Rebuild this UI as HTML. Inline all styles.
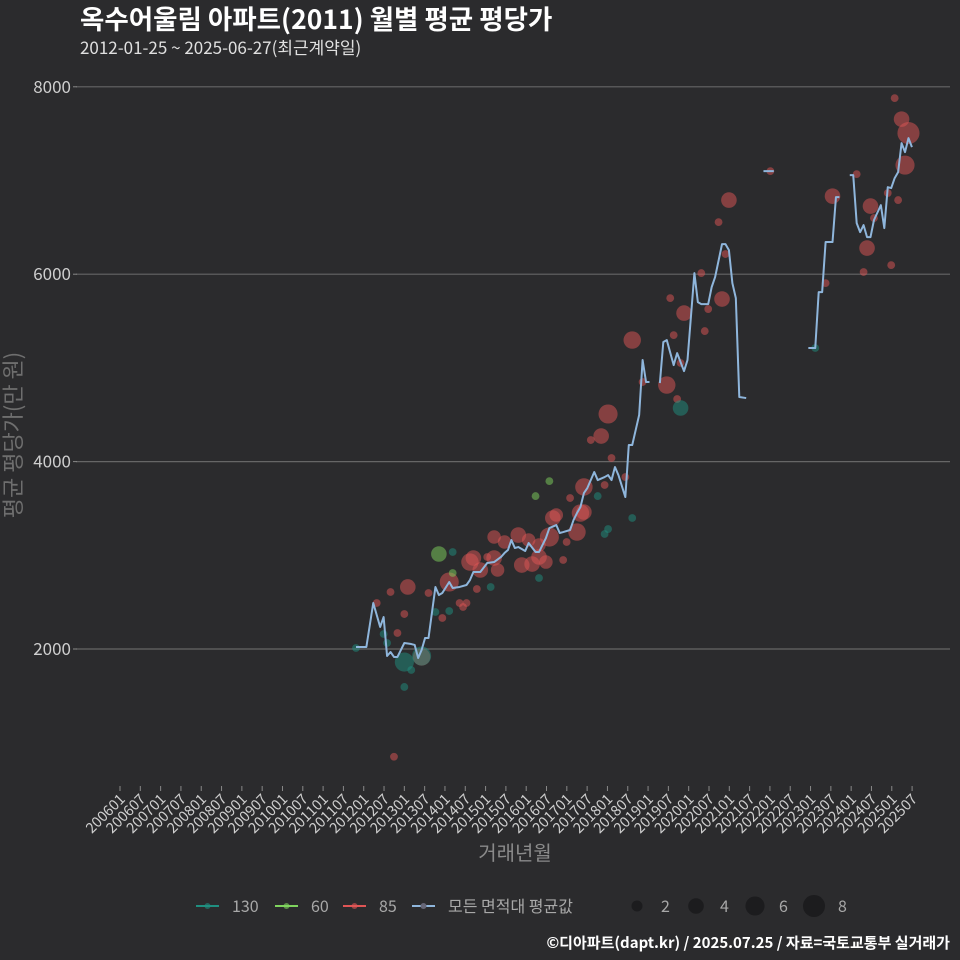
<!DOCTYPE html>
<html><head><meta charset="utf-8"><style>
body{margin:0;background:#2b2b2d;}
svg{display:block;font-family:"Noto Sans CJK KR","Liberation Sans",sans-serif;}
</style></head><body>
<svg id="chart" width="960" height="960" viewBox="0 0 960 960" xmlns="http://www.w3.org/2000/svg">
<rect width="960" height="960" fill="#2b2b2d"/>
<text x="80" y="29" fill="#ffffff" font-size="26.5" font-weight="bold">옥수어울림 아파트(2011) 월별 평균 평당가</text>
<text x="80" y="54" fill="#e0e0e0" font-size="17">2012-01-25 ~ 2025-06-27(최근계약일)</text>
<g id="grid"></g>
<g id="points"></g>
<g id="line"></g>
<g id="xaxis"></g>
<text x="515" y="860" fill="#8a8a8a" font-size="20" text-anchor="middle">거래년월</text>
<text transform="translate(21,435) rotate(-90)" fill="#6e6e6e" font-size="22" text-anchor="middle">평균 평당가(만 원)</text>
<g id="legend"></g>
<text x="950" y="948" fill="#ffffff" font-size="15" font-weight="bold" text-anchor="end">©디아파트(dapt.kr) / 2025.07.25 / 자료=국토교통부 실거래가</text>
</svg>
<script>
const yTicks=[2000,4000,6000,8000];
const xTickLabels=["200601","200607","200701","200707","200801","200807","200901","200907","201001","201007","201101","201107","201201","201207","201301","201307","201401","201407","201501","201507","201601","201607","201701","201707","201801","201807","201901","201907","202001","202007","202101","202107","202201","202207","202301","202307","202401","202407","202501","202507"];
// average line: month index since 2012-01 and value (null = break)
const lineMonths=[0,3,5,7,8,9,10,11,12,14,16,17,18,19,20,21,23,24,25,27,28,30,32,33,34,36,38,40,42,43,44,45,46,47,49,50,52,53,55,56,58,59,60,62,63,64,65,66,67,69,70,72,73,74,75,76,78,79,80,82,83,84,85,86,88,89,90,92,93,95,96,98,99,100,102,103,104,106,107,108,109,110,111,113,114,118,121,122,131,133,134,135,136,138,139,140,141,143,144,145,146,147,148,149,150,152,153,154,155,156,157,158,159,160,161];
const lineValues=[2021,2021,2491,2235,2341,1925,1968,1915,1915,2064,2053,2043,1904,1989,2117,2117,2662,2576,2598,2715,2651,2662,2683,2736,2822,2822,2918,2928,2982,3024,3056,3163,3078,3088,3046,3131,3035,3035,3184,3291,3323,3238,3248,3270,3376,3451,3515,3664,3718,3889,3803,3835,3856,3803,3942,3856,3622,4177,4177,4497,5084,4849,4849,null,4838,5276,5297,5030,5158,4966,5084,6012,5702,5681,5681,5862,5969,6321,6321,6257,5905,5745,4689,4678,null,7100,7100,null,5212,5212,5809,5809,6343,6343,6823,6823,null,7058,7058,6545,6449,6524,6396,6396,6577,6737,6492,6929,6919,7026,7090,7399,7303,7452,7356];
// scatter points
const ptMonths=[6,10,15,14,12,19,21,25,27,30,31,32,33,34,35,36,38,40,41,40,43,47,48,50,51,53,53,55,56,57,58,60,61,62,64,65,66,66,72,74,71,73,68,78,80,83,90,93,92,91,95,94,101,102,106,100,107,105,108,120,136,138,145,147,148,149,150,154,155,157,156,158,159,160,11,
 14,19,16,14,8,9,23,27,28,39,53,70,73,72,80,94,0,133,
 24,52,56,28];
const ptValues=[2491,2608,2662,2373,2171,1915,2598,2331,2715,2491,2448,2491,2928,2971,2640,2843,2982,2971,2843,3195,3142,3216,2896,3163,2907,2982,3110,2928,3195,3398,3430,2950,3142,3611,3248,3451,3462,3729,3750,4038,4273,4508,4230,3835,5297,4849,4817,4668,5350,5745,5585,5052,5393,5628,5735,6012,6215,6556,6791,7100,5905,6833,7068,6023,6279,6727,6599,6866,6097,6791,7879,7655,7164,7506,850,
 1861,1925,1776,1595,2160,2064,2395,2405,3035,2662,2758,3632,3280,3227,3398,4572,2011,5212,
 3014,3632,3792,2811];
const ptCounts=[1,1,4,1,1,5,1,1,6,1,1,1,5,4,1,4,1,4,3,3,3,4,4,3,4,4,3,3,6,4,3,1,1,1,5,5,4,5,1,1,4,6,1,1,5,1,5,1,1,1,4,1,1,1,4,1,1,1,4,1,1,4,1,1,4,4,1,1,1,1,1,4,6,8,1,
 6,6,1,1,1,1,1,1,1,1,1,1,1,1,1,4,1,1,
 4,1,1,1];
const ptAreas=[];
for(let i=0;i<74;i++)ptAreas.push("85");ptAreas.push("85");
for(let i=0;i<18;i++)ptAreas.push("130");
for(let i=0;i<4;i++)ptAreas.push("60");
const areaColors={"130":"#1f8f80","60":"#7fd45e","85":"#e05555"};
const legendAreas=["130","60","85"];
const sizeLegend=[2,4,6,8];

const NS="http://www.w3.org/2000/svg";
function mk(tag,attrs,parent){const e=document.createElementNS(NS,tag);for(const k in attrs)e.setAttribute(k,attrs[k]);parent.appendChild(e);return e;}
const yS=v=>649-(v-2000)*0.0937;
const xS=m=>356+m*3.453;
const rS=n=>3.9*Math.sqrt(n);

const grid=document.getElementById('grid');
yTicks.forEach(t=>{
 const l=mk('line',{x1:76,x2:950,y1:yS(t),y2:yS(t),stroke:'#666',"stroke-width":1.2},grid);
 
 
 const tk=mk('line',{x1:73,x2:77,y1:yS(t),y2:yS(t),stroke:'#888'},grid);
 
 
 const tx=mk('text',{x:71,y:yS(t)+6,fill:'#cfcfcf',"font-size":17,"text-anchor":"end"},grid);
 tx.textContent=t;
 
 
});
const xa=document.getElementById('xaxis');
xTickLabels.forEach((lab,k)=>{
 const x=120+k*20.31;
 const tk=mk('line',{x1:x,x2:x,y1:786,y2:791,stroke:'#888'},xa);
 
 
 const tx=mk('text',{transform:`translate(${x+6},800) rotate(-45)`,fill:'#cfcfcf',"font-size":14.5,"text-anchor":"end"},xa);
 tx.textContent=lab;
 
 
});
const pts=document.getElementById('points');
ptMonths.forEach((m,i)=>{
 const c=mk('circle',{cx:xS(m),cy:yS(ptValues[i]),r:rS(ptCounts[i]),fill:areaColors[ptAreas[i]],"fill-opacity":0.5},pts);
 
 
});
const lg=document.getElementById('line');
let seg=[];
function flush(){if(seg.length>1){const p=mk('polyline',{points:seg.join(' '),fill:'none',stroke:'#8fb6dc',"stroke-width":2,"stroke-linejoin":"round"},lg);
 
 }seg=[];}
lineMonths.forEach((m,i)=>{const v=lineValues[i];if(v===null){flush();}else seg.push(xS(m)+','+yS(v));});
flush();

const leg=document.getElementById('legend');
const legX=[196,275,343];
legendAreas.forEach((a,i)=>{
 const x=legX[i];
 const l=mk('line',{x1:x,x2:x+23,y1:906,y2:906,stroke:areaColors[a],"stroke-width":2},leg);
 
 
 const c=mk('circle',{cx:x+11.5,cy:906,r:3,fill:areaColors[a],"fill-opacity":0.6},leg);
 
 
 const t=mk('text',{x:x+36,y:912,fill:'#a8a8a8',"font-size":16},leg);
 t.textContent=a;
 
 
});
{
 const l=mk('line',{x1:412,x2:435,y1:906,y2:906,stroke:'#8fb6dc',"stroke-width":2},leg);
 
 
 const c=mk('circle',{cx:423.5,cy:906,r:3,fill:'#667'},leg);
 
 
 const t=mk('text',{x:448,y:912,fill:'#a8a8a8',"font-size":16},leg);
 t.textContent='모든 면적대 평균값';
 
 
}
sizeLegend.forEach((s,i)=>{
 const x=637+i*59;
 const c=mk('circle',{cx:x,cy:906,r:rS(s),fill:'#1c1c1e'},leg);
 
 
 const t=mk('text',{x:x+24,y:912,fill:'#a8a8a8',"font-size":16},leg);
 t.textContent=s;
 
 
});
</script>
</body></html>
